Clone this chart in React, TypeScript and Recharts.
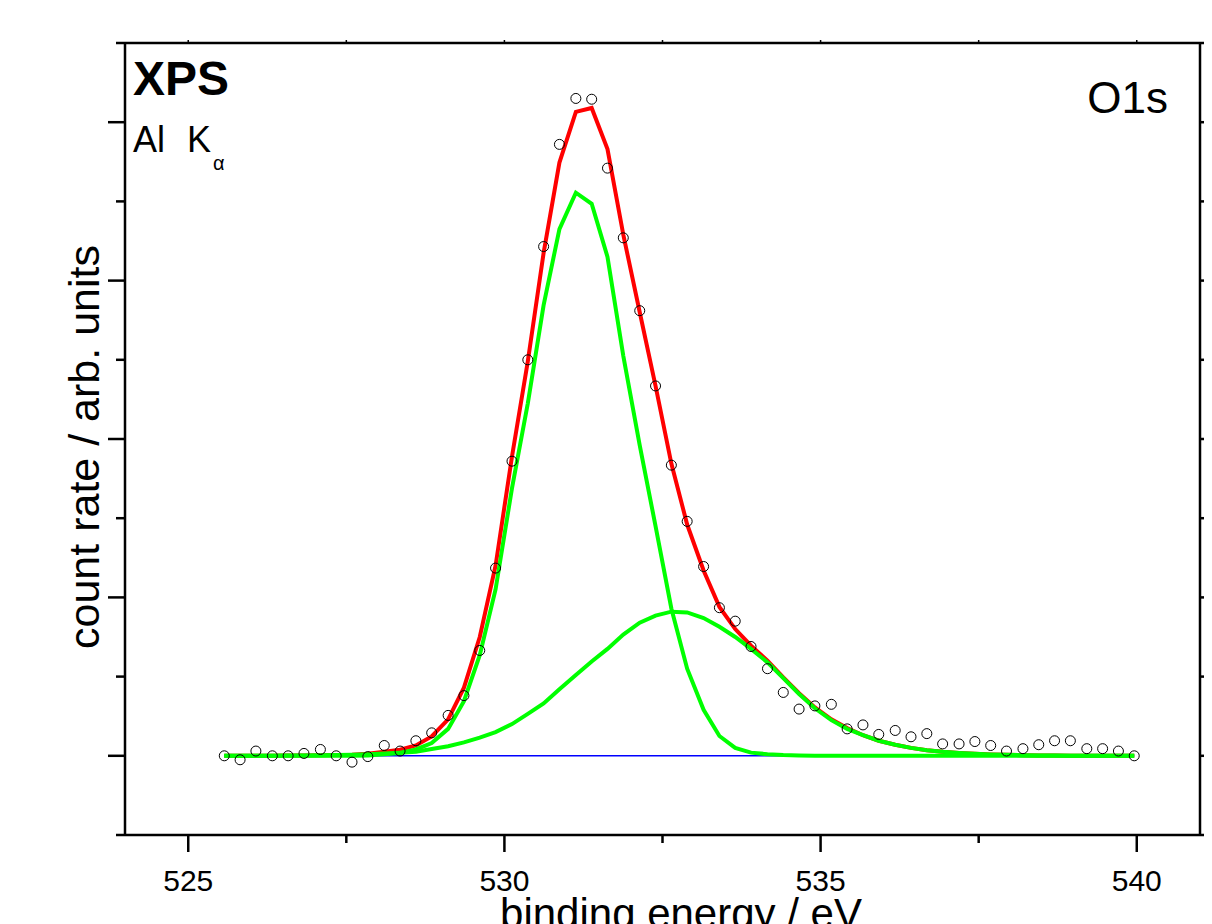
import { ComposedChart, Line, Scatter, XAxis, YAxis } from "recharts";

// binding energies of the measured points (eV)
const energy = [
  525.57, 525.82, 526.07, 526.33, 526.58, 526.83, 527.09, 527.34, 527.59, 527.84,
  528.1, 528.35, 528.6, 528.85, 529.11, 529.36, 529.61, 529.86, 530.12, 530.37,
  530.62, 530.87, 531.13, 531.38, 531.63, 531.88, 532.14, 532.39, 532.64, 532.89,
  533.15, 533.4, 533.65, 533.9, 534.16, 534.41, 534.66, 534.91, 535.17, 535.42,
  535.67, 535.92, 536.18, 536.43, 536.68, 536.93, 537.19, 537.44, 537.69, 537.94,
  538.2, 538.45, 538.7, 538.95, 539.21, 539.46, 539.71, 539.96,
];

// measured count rate (open circles)
const measured = [
  0.0, -0.05, 0.06, 0.0, 0.0, 0.03, 0.08, 0.0, -0.08, -0.01,
  0.13, 0.06, 0.19, 0.29, 0.51, 0.76, 1.33, 2.37, 3.72, 5.0,
  6.43, 7.72, 8.3, 8.29, 7.42, 6.54, 5.62, 4.67, 3.67, 2.96,
  2.39, 1.87, 1.7, 1.38, 1.1, 0.8, 0.59, 0.63, 0.65, 0.34,
  0.39, 0.27, 0.32, 0.24, 0.28, 0.15, 0.15, 0.18, 0.13, 0.06,
  0.09, 0.14, 0.19, 0.19, 0.09, 0.09, 0.06, 0.0,
];

// envelope of the fit (red)
const envelope = [
  0.001, 0.001, 0.001, 0.002, 0.003, 0.004, 0.006, 0.009, 0.013, 0.025,
  0.05, 0.076, 0.13, 0.245, 0.46, 0.86, 1.5, 2.4, 3.78, 4.98,
  6.35, 7.49, 8.13, 8.18, 7.66, 6.58, 5.6, 4.67, 3.69, 2.92,
  2.34, 1.88, 1.6, 1.39, 1.2, 0.99, 0.79, 0.61, 0.46, 0.35,
  0.26, 0.19, 0.14, 0.1, 0.07, 0.05, 0.035, 0.025, 0.018, 0.012,
  0.008, 0.005, 0.003, 0.002, 0.001, 0.0, 0.0, 0.0,
];

// narrow component near 531 eV (green)
const peakMain = [
  0, 0, 0, 0, 0, 0, 0, 0, 0, 0.005,
  0.02, 0.036, 0.08, 0.16, 0.34, 0.69, 1.27, 2.1, 3.38, 4.45,
  5.69, 6.65, 7.11, 6.97, 6.3, 5.05, 3.92, 2.9, 1.86, 1.1,
  0.58, 0.25, 0.1, 0.04, 0.02, 0.01, 0.005, 0, 0, 0,
  0, 0, 0, 0, 0, 0, 0, 0, 0, 0,
  0, 0, 0, 0, 0, 0, 0, 0,
];

// broad component near 532.7 eV (green)
const peakBroad = [
  0.001, 0.001, 0.001, 0.002, 0.003, 0.004, 0.006, 0.009, 0.013, 0.02,
  0.028, 0.04, 0.05, 0.085, 0.12, 0.17, 0.23, 0.3, 0.4, 0.53,
  0.66, 0.84, 1.02, 1.19, 1.35, 1.53, 1.68, 1.77, 1.82, 1.81,
  1.74, 1.63, 1.5, 1.35, 1.18, 0.98, 0.78, 0.6, 0.45, 0.34,
  0.26, 0.19, 0.14, 0.1, 0.07, 0.05, 0.035, 0.025, 0.018, 0.012,
  0.008, 0.005, 0.003, 0.002, 0.001, 0.001, 0, 0,
];

// background (blue)
const background = energy.map(() => 0);

const xTicks = [525, 527.5, 530, 532.5, 535, 537.5, 540];
const yTicks = [-1, 0, 1, 2, 3, 4, 5, 6, 7, 8, 9];

const data = energy.map((e, i) => ({
  e,
  y: measured[i],
  fit: envelope[i],
  p1: peakMain[i],
  p2: peakBroad[i],
  bg: background[i],
}));

const FONT = "'Liberation Sans', Arial, sans-serif";
const W = 1204;
const H = 916;

function BottomTick(props: any) {
  const { x, y, payload } = props;
  const major = payload.value % 5 === 0;
  return (
    <g>
      <line x1={x} y1={y} x2={x} y2={y + (major ? 17 : 8)} stroke="#000" strokeWidth={2.5} />
      {major && (
        <text x={x} y={y + 56} textAnchor="middle" fontSize={30} fontFamily={FONT} fill="#000">
          {payload.value}
        </text>
      )}
    </g>
  );
}

function TopTick(props: any) {
  const { x, y } = props;
  return <line x1={x} y1={y} x2={x} y2={y - 3} stroke="#000" strokeWidth={1.5} />;
}

function LeftTick(props: any) {
  const { x, y, payload } = props;
  const v = payload.value;
  const major = v >= 0 && v <= 8 && v % 2 === 0;
  return <line x1={x} y1={y} x2={x - (major ? 17 : 9)} y2={y} stroke="#000" strokeWidth={2.5} />;
}

function RightTick(props: any) {
  const { x, y, payload } = props;
  const v = payload.value;
  const major = v >= 0 && v <= 8 && v % 2 === 0;
  return <line x1={x} y1={y} x2={x + (major ? 17 : 9)} y2={y} stroke="#000" strokeWidth={2.5} />;
}

function Ring(props: any) {
  const { cx, cy } = props;
  return <circle cx={cx} cy={cy} r={5} fill="none" stroke="#000" strokeWidth={1} />;
}

export default function App() {
  return (
    <div style={{ position: "relative", width: W, height: H, background: "#fff" }}>
      <ComposedChart width={W} height={H} data={data} margin={{ top: 34, right: 0, bottom: 0, left: 0 }}>
        <XAxis
          dataKey="e"
          type="number"
          domain={[524, 541]}
          allowDataOverflow
          ticks={xTicks}
          interval={0}
          height={89}
          tickSize={0}
          tickMargin={0}
          tick={<BottomTick />}
          axisLine={{ stroke: "#000", strokeWidth: 2.5 }}
        />
        <XAxis
          xAxisId="top"
          orientation="top"
          dataKey="e"
          type="number"
          domain={[524, 541]}
          allowDataOverflow
          ticks={xTicks}
          interval={0}
          height={1}
          tickSize={0}
          tickMargin={0}
          tick={<TopTick />}
          axisLine={{ stroke: "#000", strokeWidth: 2.5 }}
        />
        <YAxis
          type="number"
          domain={[-1, 9]}
          allowDataOverflow
          ticks={yTicks}
          interval={0}
          width={117}
          tickSize={0}
          tickMargin={0}
          tick={<LeftTick />}
          axisLine={{ stroke: "#000", strokeWidth: 2.5 }}
        />
        <YAxis
          yAxisId="right"
          orientation="right"
          type="number"
          domain={[-1, 9]}
          allowDataOverflow
          ticks={yTicks}
          interval={0}
          width={12}
          tickSize={0}
          tickMargin={0}
          tick={<RightTick />}
          axisLine={{ stroke: "#000", strokeWidth: 2.5 }}
        />
        <Line dataKey="bg" type="linear" stroke="#0000ff" strokeWidth={1.5} dot={false} isAnimationActive={false} />
        <Line dataKey="fit" type="linear" stroke="#ff0000" strokeWidth={4} dot={false} isAnimationActive={false} />
        <Line dataKey="p1" type="linear" stroke="#00ff00" strokeWidth={4} dot={false} isAnimationActive={false} />
        <Line dataKey="p2" type="linear" stroke="#00ff00" strokeWidth={4} dot={false} isAnimationActive={false} />
        <Scatter dataKey="y" shape={<Ring />} isAnimationActive={false} />
      </ComposedChart>
      <svg
        width={W}
        height={H}
        style={{ position: "absolute", left: 0, top: 0, pointerEvents: "none" }}
        fontFamily={FONT}
      >
        <text x={125} y={87} fontSize={48} fontWeight="bold" fill="#000">XPS</text>
        <text x={125} y={144} fontSize={36} fill="#000">Al</text>
        <text x={179} y={144} fontSize={36} fill="#000">K</text>
        <text x={205} y={162} fontSize={20} fill="#000">α</text>
        <text x={1160} y={105} fontSize={44} textAnchor="end" fill="#000">O1s</text>
        <text
          x={91}
          y={439}
          fontSize={43}
          textAnchor="middle"
          transform="rotate(-90, 91, 439)"
          fill="#000"
        >
          count rate / arb. units
        </text>
        <text x={673} y={920} fontSize={42} textAnchor="middle" fill="#000">
          binding energy / eV
        </text>
      </svg>
    </div>
  );
}
